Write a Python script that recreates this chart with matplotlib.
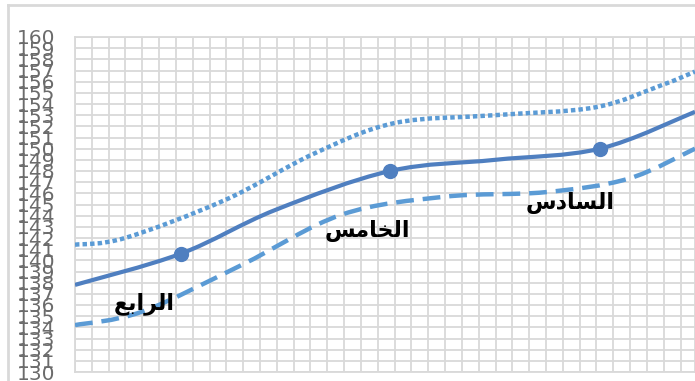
import matplotlib.pyplot as plt
from matplotlib.lines import Line2D
from matplotlib.path import Path
from matplotlib.patches import PathPatch

# grid columns along x, heights in cm along y
mid_x = [0, 6.30, 11.89, 18.73, 24.97, 31.21, 36.86]
mid_y = [137.8, 140.6, 144.5, 148.0, 149.0, 150.0, 153.3]

grade_x = [6.30, 18.73, 31.21]
grade_y = [140.6, 148.0, 150.0]

upper_x = [0, 2.97, 8.92, 14.27, 19.02, 24.97, 30.92, 34.90, 36.86]
upper_y = [141.4, 142.0, 145.4, 149.6, 152.3, 153.0, 153.7, 155.7, 156.9]

lower_x = [0, 3.98, 9.93, 15.87, 22.00, 27.94, 32.88, 36.86]
lower_y = [134.2, 135.4, 139.6, 144.1, 145.7, 146.1, 147.3, 150.0]

grade_names = ['الرابع', 'الخامس', 'السادس']
name_x = [4.12, 17.41, 29.43]
name_y = [136.1, 142.6, 145.1]

y_ticks = list(range(130, 161))

# Arabic presentation forms: isolated, final, initial, medial
FORMS = {
    'ا': ('\uFE8D', '\uFE8E', None, None),
    'د': ('\uFEA9', '\uFEAA', None, None),
    'ر': ('\uFEAD', '\uFEAE', None, None),
    'ل': ('\uFEDD', '\uFEDE', '\uFEDF', '\uFEE0'),
    'ب': ('\uFE8F', '\uFE90', '\uFE91', '\uFE92'),
    'ع': ('\uFEC9', '\uFECA', '\uFECB', '\uFECC'),
    'خ': ('\uFEA5', '\uFEA6', '\uFEA7', '\uFEA8'),
    'م': ('\uFEE1', '\uFEE2', '\uFEE3', '\uFEE4'),
    'س': ('\uFEB1', '\uFEB2', '\uFEB3', '\uFEB4'),
}


def shape_arabic(word):
    out = []
    for i, ch in enumerate(word):
        iso, fin, ini, med = FORMS[ch]
        prev_joins = i > 0 and FORMS[word[i - 1]][2] is not None
        next_joins = i < len(word) - 1 and ini is not None
        if prev_joins and next_joins:
            out.append(med)
        elif prev_joins:
            out.append(fin)
        elif next_joins:
            out.append(ini)
        else:
            out.append(iso)
    return ''.join(reversed(out))


def smooth_line(ax, xs, ys, **kw):
    # smoothed curve through the points (Catmull-Rom as cubic Bezier)
    pts = list(zip(xs, ys))
    n = len(pts)
    verts = [pts[0]]
    codes = [Path.MOVETO]
    for i in range(n - 1):
        p0 = pts[max(i - 1, 0)]
        p1 = pts[i]
        p2 = pts[i + 1]
        p3 = pts[min(i + 2, n - 1)]
        c1 = (p1[0] + (p2[0] - p0[0]) / 6, p1[1] + (p2[1] - p0[1]) / 6)
        c2 = (p2[0] - (p3[0] - p1[0]) / 6, p2[1] - (p3[1] - p1[1]) / 6)
        verts += [c1, c2, p2]
        codes += [Path.CURVE4] * 3
    ax.add_patch(PathPatch(Path(verts, codes), fill=False, **kw))


W, H = 695, 381
fig = plt.figure(figsize=(W / 100, H / 100), dpi=100)
ax = fig.add_axes([75 / W, (H - 372) / H, (W - 75) / W, 335 / H])

grid_col = '#d9d9d9'
ax.set_xlim(0, 36.86)
ax.set_ylim(130, 160)
ax.set_xticks(range(0, 37))
ax.set_yticks(y_ticks)
ax.set_xticklabels([])
ax.set_yticklabels([str(v) for v in y_ticks], fontsize=14.5, color='#6b6b6b')
ax.tick_params(axis='both', length=0)
ax.tick_params(axis='y', pad=14)
ax.grid(True, color=grid_col, linewidth=1.3)
ax.set_axisbelow(True)
for s in ax.spines.values():
    s.set_color(grid_col)
    s.set_linewidth(1.3)

light = '#5b9bd5'
dark = '#4f7fc0'

smooth_line(ax, upper_x, upper_y, edgecolor=light, linewidth=3.2,
            linestyle=(0, (1, 0.7)), capstyle='butt', zorder=3)
smooth_line(ax, lower_x, lower_y, edgecolor=light, linewidth=3.2,
            linestyle=(0, (4, 2)), capstyle='butt', zorder=3)
smooth_line(ax, mid_x, mid_y, edgecolor=dark, linewidth=3, capstyle='butt', zorder=4)
ax.plot(grade_x, grade_y, linestyle='none', marker='o', markersize=10,
        color=dark, zorder=5)

for name, x, y in zip(grade_names, name_x, name_y):
    ax.text(x, y, shape_arabic(name), fontsize=16, fontweight='bold',
            color='black', ha='center', va='center', zorder=6)

# chart frame
fig.add_artist(Line2D([8 / W, 8 / W], [0, 1 - 5 / H], transform=fig.transFigure,
                      color=grid_col, linewidth=2))
fig.add_artist(Line2D([8 / W, 1], [1 - 5 / H, 1 - 5 / H], transform=fig.transFigure,
                      color=grid_col, linewidth=2))

fig.savefig('out.png', dpi=100)
